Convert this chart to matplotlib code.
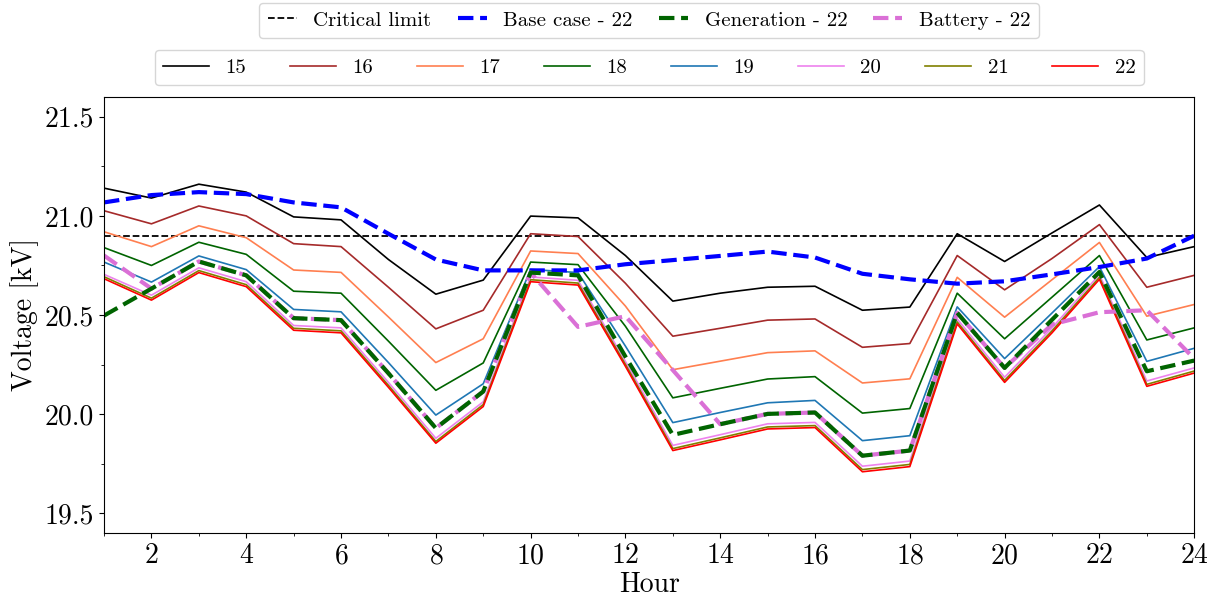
import numpy as np
import matplotlib.pyplot as plt
from matplotlib.ticker import MultipleLocator

plt.rcParams['font.family'] = ['cmr10', 'DejaVu Serif']
plt.rcParams['mathtext.fontset'] = 'cm'
plt.rcParams['axes.formatter.use_mathtext'] = True

hours = np.arange(1, 25)

# voltage profiles [kV] per scenario
v15 = [21.14, 21.09, 21.16, 21.12, 20.995, 20.98, 20.78, 20.605, 20.676, 20.999, 20.99, 20.80,
       20.57, 20.61, 20.64, 20.645, 20.524, 20.54, 20.91, 20.77, 20.914, 21.055, 20.79, 20.845]
v16 = [21.026, 20.96, 21.05, 21.00, 20.86, 20.845, 20.64, 20.43, 20.524, 20.91, 20.896, 20.66,
       20.393, 20.433, 20.474, 20.48, 20.337, 20.356, 20.80, 20.627, 20.785, 20.956, 20.64, 20.70]
v17 = [20.92, 20.845, 20.95, 20.89, 20.727, 20.715, 20.49, 20.26, 20.38, 20.823, 20.81, 20.545,
       20.224, 20.267, 20.31, 20.319, 20.157, 20.178, 20.69, 20.489, 20.678, 20.866, 20.494, 20.553]
v18 = [20.84, 20.75, 20.867, 20.806, 20.62, 20.61, 20.368, 20.12, 20.258, 20.767, 20.754, 20.443,
       20.082, 20.13, 20.177, 20.189, 20.005, 20.028, 20.61, 20.38, 20.59, 20.80, 20.374, 20.435]
v19 = [20.767, 20.666, 20.798, 20.729, 20.528, 20.516, 20.26, 19.995, 20.153, 20.73, 20.714, 20.343,
       19.957, 20.008, 20.057, 20.069, 19.866, 19.891, 20.541, 20.28, 20.51, 20.744, 20.266, 20.332]
v20 = [20.705, 20.60, 20.738, 20.668, 20.447, 20.435, 20.16, 19.878, 20.062, 20.692, 20.675, 20.266,
       19.842, 19.896, 19.951, 19.958, 19.737, 19.763, 20.48, 20.186, 20.435, 20.704, 20.167, 20.233]
v21 = [20.693, 20.585, 20.724, 20.653, 20.433, 20.42, 20.145, 19.862, 20.048, 20.678, 20.661, 20.251,
       19.826, 19.88, 19.935, 19.942, 19.72, 19.746, 20.465, 20.17, 20.42, 20.69, 20.15, 20.217]
v22 = [20.683, 20.575, 20.714, 20.643, 20.423, 20.41, 20.135, 19.853, 20.038, 20.668, 20.651, 20.241,
       19.816, 19.87, 19.925, 19.932, 19.709, 19.735, 20.455, 20.16, 20.41, 20.68, 20.14, 20.207]

base_22 = [21.068, 21.105, 21.12, 21.11, 21.068, 21.043, 20.91, 20.78, 20.725, 20.725, 20.725, 20.756,
           20.777, 20.798, 20.82, 20.79, 20.708, 20.68, 20.658, 20.67, 20.705, 20.742, 20.785, 20.90]
gen_22 = [20.497, 20.633, 20.77, 20.70, 20.484, 20.474, 20.206, 19.929, 20.114, 20.714, 20.70, 20.29,
          19.895, 19.949, 20.001, 20.008, 19.79, 19.816, 20.511, 20.233, 20.476, 20.717, 20.216, 20.27]
bat_22 = [20.80, 20.633, 20.77, 20.70, 20.484, 20.474, 20.206, 19.929, 20.114, 20.714, 20.44, 20.494,
          20.222, 19.949, 20.001, 20.008, 19.79, 19.816, 20.511, 20.233, 20.452, 20.514, 20.524, 20.28]
critical = 20.9

labels = ['15', '16', '17', '18', '19', '20', '21', '22']
series = [v15, v16, v17, v18, v19, v20, v21, v22]
colors = ['black', 'brown', 'coral', 'darkgreen', 'tab:blue', 'violet', 'olive', 'red']

fig = plt.figure(figsize=(12.07, 6.05), dpi=100)
ax = fig.add_axes([0.0862, 0.119, 0.9032, 0.7207])

h_crit = ax.axhline(critical, color='black', linestyle='--', linewidth=1.3, label='Critical limit')

thin = []
for lab, vals, c in zip(labels, series, colors):
    ln, = ax.plot(hours, vals, color=c, linewidth=1.2, label=lab)
    thin.append(ln)

h_base, = ax.plot(hours, base_22, color='blue', linestyle='--', linewidth=3, label='Base case - 22')
h_bat, = ax.plot(hours, bat_22, color='orchid', linestyle='--', linewidth=3, label='Battery - 22')
h_gen, = ax.plot(hours, gen_22, color='darkgreen', linestyle='--', linewidth=3, label='Generation - 22')

ax.set_xlim(1, 24)
ax.set_ylim(19.4, 21.6)
ax.xaxis.set_major_locator(MultipleLocator(2))
ax.xaxis.set_minor_locator(MultipleLocator(1))
ax.yaxis.set_major_locator(MultipleLocator(0.5))
ax.yaxis.set_minor_locator(MultipleLocator(0.25))
ax.yaxis.set_major_formatter(plt.FormatStrFormatter('%.1f'))
ax.tick_params(labelsize=20)
ax.set_xlabel('Hour', fontsize=20, labelpad=2)
ax.set_ylabel('Voltage [kV]', fontsize=20)

leg1 = ax.legend(handles=[h_crit, h_base, h_gen, h_bat], loc='lower center',
                 bbox_to_anchor=(0.5, 1.135), ncol=4, fontsize=15,
                 handlelength=1.4, columnspacing=1.25, borderaxespad=0)
ax.add_artist(leg1)
ax.legend(handles=thin, loc='lower center', bbox_to_anchor=(0.5, 1.027), ncol=8,
          fontsize=15, handlelength=2.2, columnspacing=2.1, borderaxespad=0)

fig.savefig('out.png', dpi=100)
